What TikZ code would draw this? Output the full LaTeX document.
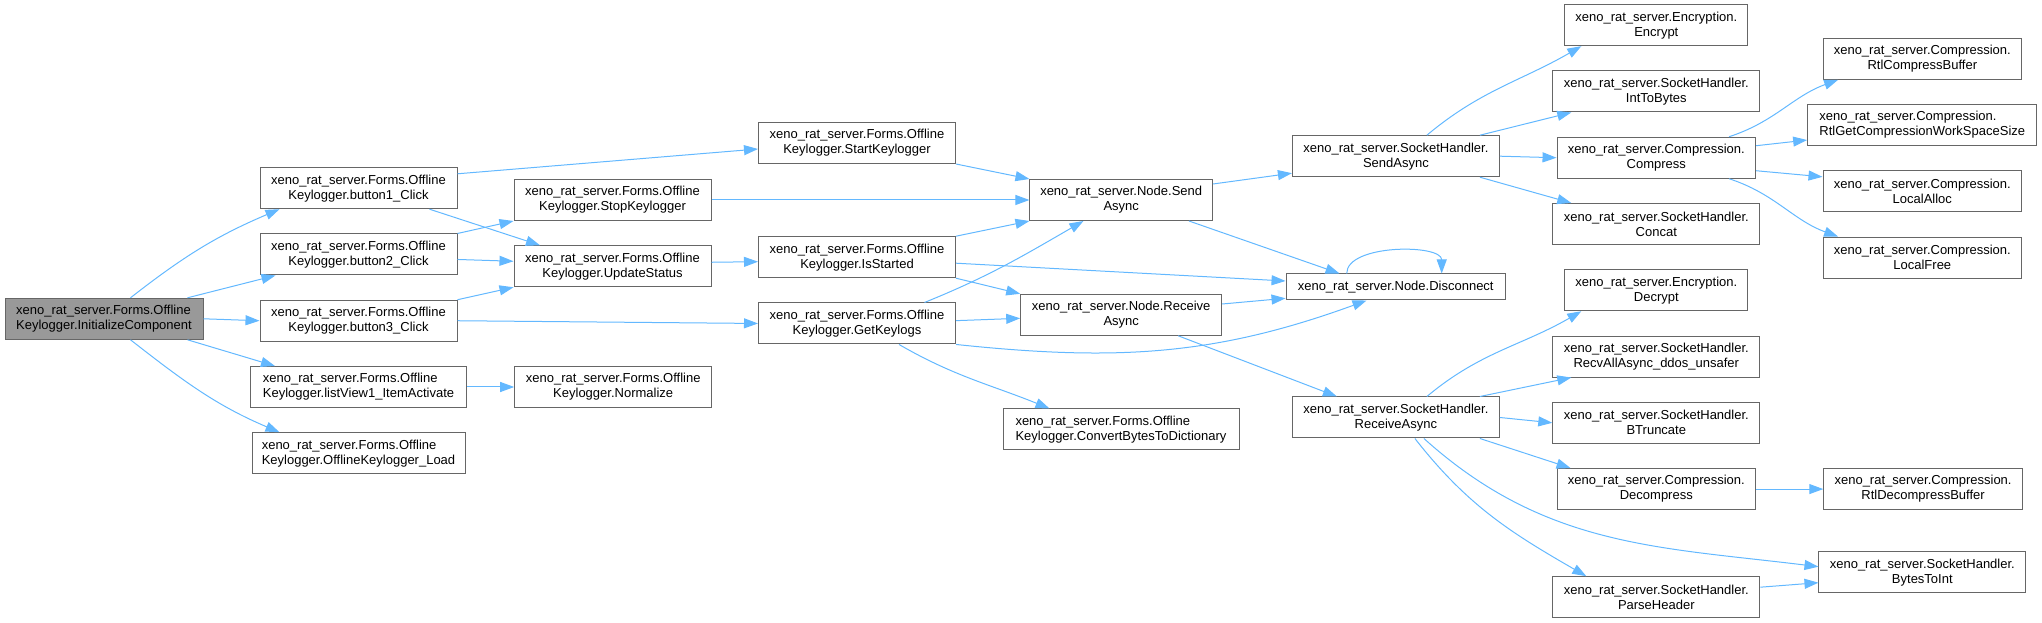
\documentclass[tikz,border=0pt]{standalone}
\usepackage{fontspec}
\setmainfont{Liberation Sans}
\usetikzlibrary{arrows.meta,positioning,calc}
\definecolor{colArete}{RGB}{99,184,255}
\definecolor{colBord}{RGB}{102,102,102}
\definecolor{colRacine}{RGB}{153,153,153}

\begin{document}
\begin{tikzpicture}[x=0.75pt, y=0.75pt,
    font=\fontsize{9.75}{11.25}\selectfont,
    fn/.style={rectangle, draw=colBord, fill=white, line width=0.75pt,
      align=center, minimum height=30.75pt, minimum width=147.75pt,
      inner sep=2pt},
    fnl/.style={fn, align=left},
    racine/.style={fnl, fill=colRacine},
    fl/.style={-{Triangle[length=10.5pt,width=7.5pt]}, line width=0.75pt,
      colArete}]
    \useasboundingbox (0,0) rectangle (2042,-623);
    \node[racine, minimum width=148.5pt] (init) at (104,-318.8)
      {xeno\_rat\_server.Forms.Offline\\Keylogger.InitializeComponent};
    \node[fn] (b1) at (358.5,-188.2)
      {xeno\_rat\_server.Forms.Offline\\Keylogger.button1\_Click};
    \node[fn, below=18.2pt of b1] (b2)
      {xeno\_rat\_server.Forms.Offline\\Keylogger.button2\_Click};
    \node[fn, below=18.2pt of b2] (b3)
      {xeno\_rat\_server.Forms.Offline\\Keylogger.button3\_Click};
    \node[fnl, minimum width=162pt, below=18.2pt of b3] (lva)
      {xeno\_rat\_server.Forms.Offline\\Keylogger.listView1\_ItemActivate};
    \node[fnl, minimum width=159.75pt, below=18.2pt of lva] (load)
      {xeno\_rat\_server.Forms.Offline\\Keylogger.OfflineKeylogger\_Load};
    \node[fn] (stop) at (612.5,-200)
      {xeno\_rat\_server.Forms.Offline\\Keylogger.StopKeylogger};
    \node[fn, below=18.2pt of stop] (upd)
      {xeno\_rat\_server.Forms.Offline\\Keylogger.UpdateStatus};
    \node[fn, right=35.4pt of lva] (norm)
      {xeno\_rat\_server.Forms.Offline\\Keylogger.Normalize};
    \node[fn] (start) at (857,-143)
      {xeno\_rat\_server.Forms.Offline\\Keylogger.StartKeylogger};
    \node[fn] (isst) at (857,-257.2)
      {xeno\_rat\_server.Forms.Offline\\Keylogger.IsStarted};
    \node[fn, below=18.2pt of isst] (getk)
      {xeno\_rat\_server.Forms.Offline\\Keylogger.GetKeylogs};
    \node[fn, minimum width=136.9pt] (nsend) at (1121.2,-200)
      {xeno\_rat\_server.Node.Send\\Async};
    \node[fn, minimum width=150.75pt] (nrecv) at (1121.2,-314.8)
      {xeno\_rat\_server.Node.Receive\\Async};
    \node[fnl, minimum width=177pt] (conv) at (1121,-429.5)
      {xeno\_rat\_server.Forms.Offline\\Keylogger.ConvertBytesToDictionary};
    \node[fn, minimum width=155.25pt] (shsend) at (1395.9,-156.2)
      {xeno\_rat\_server.SocketHandler.\\SendAsync};
    \node[fn, minimum width=164.5pt, minimum height=19.5pt] (disc)
      at (1395.7,-287) {xeno\_rat\_server.Node.Disconnect};
    \node[fn, minimum width=155.25pt] (shrecv) at (1395.9,-417.5)
      {xeno\_rat\_server.SocketHandler.\\ReceiveAsync};
    \node[fn, minimum width=137.25pt] (enc) at (1656.3,-25.2)
      {xeno\_rat\_server.Encryption.\\Encrypt};
    \node[fn, minimum width=155.25pt, below=18.2pt of enc] (i2b)
      {xeno\_rat\_server.SocketHandler.\\IntToBytes};
    \node[fn, minimum width=148.9pt, below=18.2pt of i2b] (comp)
      {xeno\_rat\_server.Compression.\\Compress};
    \node[fn, minimum width=155.25pt, below=18.2pt of comp] (concat)
      {xeno\_rat\_server.SocketHandler.\\Concat};
    \node[fn, minimum width=137.25pt, below=18.2pt of concat] (dec)
      {xeno\_rat\_server.Encryption.\\Decrypt};
    \node[fn, minimum width=155.25pt, below=18.2pt of dec] (recv)
      {xeno\_rat\_server.SocketHandler.\\RecvAllAsync\_ddos\_unsafer};
    \node[fn, minimum width=155.25pt, below=18.2pt of recv] (btr)
      {xeno\_rat\_server.SocketHandler.\\BTruncate};
    \node[fn, minimum width=148.9pt, below=18.2pt of btr] (decomp)
      {xeno\_rat\_server.Compression.\\Decompress};
    \node[fn, minimum width=155.25pt] (parse) at (1656.3,-597.2)
      {xeno\_rat\_server.SocketHandler.\\ParseHeader};
    \node[fn, minimum width=148.95pt] (rcb) at (1922.3,-58.8)
      {xeno\_rat\_server.Compression.\\RtlCompressBuffer};
    \node[fnl, minimum width=172pt, below=18.2pt of rcb] (rgws)
      {xeno\_rat\_server.Compression.\\RtlGetCompressionWorkSpaceSize};
    \node[fn, minimum width=148.95pt, below=18.2pt of rgws] (lalloc)
      {xeno\_rat\_server.Compression.\\LocalAlloc};
    \node[fn, minimum width=148.95pt, below=18.2pt of lalloc] (lfree)
      {xeno\_rat\_server.Compression.\\LocalFree};
    \node[fn, minimum width=148.95pt, right=50.4pt of decomp] (rdb)
      {xeno\_rat\_server.Compression.\\RtlDecompressBuffer};
    \node[fn, minimum width=155pt] (b2i) at (1922.3,-572.2)
      {xeno\_rat\_server.SocketHandler.\\BytesToInt};
    % appels depuis InitializeComponent
    \draw[fl] ($(init.north west)+(126,0)$) to[out=38,in=203]
      ($(b1.south west)+(20,0)$);
    \draw[fl] ($(init.north east)+(-16,0)$)--($(b2.south west)+(16,0)$);
    \draw[fl] (init.east)--(b3.west);
    \draw[fl] ($(init.south east)+(-16,0)$)--($(lva.north west)+(25,0)$);
    \draw[fl] ($(init.south west)+(126,0)$) to[out=-38,in=157]
      ($(load.north west)+(28,0)$);
    \draw[fl] ($(b1.north east)+(0,-6.6)$)--($(start.west)+(0,-6)$);
    \draw[fl] ($(b1.south east)+(-28,0)$)--($(upd.north west)+(26.5,0)$);
    \draw[fl] (b2.north east)--(stop.south west);
    \draw[fl] ($(b2.east)+(0,-5)$)--($(upd.west)+(0,5)$);
    \draw[fl] (b3.north east)--(upd.south west);
    \draw[fl] (b3.east)--(getk.west);
    \draw[fl] (lva)--(norm);
    \draw[fl] (stop.east)--(nsend.west);
    \draw[fl] ($(upd.east)+(0,4)$)--($(isst.west)+(0,-4.5)$);
    \draw[fl] (start.south east)--(nsend.north west);
    \draw[fl] (isst.north east)--(nsend.south west);
    \draw[fl] ($(isst.east)+(0,-6)$)--($(disc.west)+(0,6)$);
    \draw[fl] (isst.south east)--(nrecv.north west);
    \draw[fl] ($(getk.north east)+(-31.5,0)$) to[out=22,in=210]
      ($(nsend.south west)+(54,0)$);
    \draw[fl] ($(getk.east)+(0,2.8)$)--($(nrecv.west)+(0,-3.5)$);
    \draw[fl] (getk.south east) to[out=-6,in=200]
      ($(disc.south west)+(81,0)$);
    \draw[fl] ($(getk.south west)+(141,0)$) to[out=-30,in=158]
      ($(conv.north west)+(47,0)$);
    % Node
    \draw[fl] ($(nsend.north east)+(0,-5)$)--($(shsend.south west)+(0,4)$);
    \draw[fl] ($(nsend.south east)+(-24,0)$)--($(disc.north west)+(54,0)$);
    \draw[fl] ($(nrecv.east)+(0,10.8)$)--($(disc.west)+(0,-11.3)$);
    \draw[fl] ($(nrecv.south east)+(-44,0)$)--($(shrecv.north west)+(45,0)$);
    \draw[fl] ($(disc.north)+(-49,0)$) to[out=90,in=90,looseness=0.8]
      ($(disc.north)+(46,0)$);
    % SocketHandler.SendAsync
    \draw[fl] ($(shsend.north west)+(135,0)$) to[out=40,in=210]
      ($(enc.south west)+(17,0)$);
    \draw[fl] ($(shsend.north east)+(-20,0)$)--($(i2b.south west)+(19,0)$);
    \draw[fl] (shsend.east)--(comp.west);
    \draw[fl] ($(shsend.south east)+(-20,0)$)--($(concat.north west)+(19,0)$);
    % Compress
    \draw[fl] ($(comp.north east)+(-27,0)$) to[out=18,in=200]
      ($(rcb.south west)+(15.6,0)$);
    \draw[fl] ($(comp.east)+(0,12)$)--($(rgws.west)+(0,-15)$);
    \draw[fl] ($(comp.east)+(0,-13)$)--($(lalloc.west)+(0,14.5)$);
    \draw[fl] ($(comp.south east)+(-27,0)$) to[out=-18,in=160]
      ($(lfree.north west)+(15.6,0)$);
    % SocketHandler.ReceiveAsync
    \draw[fl] ($(shrecv.north west)+(135,0)$) to[out=40,in=210]
      ($(dec.south west)+(17,0)$);
    \draw[fl] ($(shrecv.north east)+(-20,0)$)--($(recv.south west)+(19,0)$);
    \draw[fl] (shrecv.east)--(btr.west);
    \draw[fl] ($(shrecv.south east)+(-20,0)$)--($(decomp.north west)+(14,0)$);
    \draw[fl] ($(shrecv.south west)+(132,0)$) to[out=-42,in=173]
      ($(b2i.west)+(0,5.5)$);
    \draw[fl] ($(shrecv.south west)+(123,0)$) to[out=-52,in=150]
      ($(parse.north west)+(34,0)$);
    \draw[fl] (decomp.east)--(rdb.west);
    \draw[fl] ($(parse.east)+(0,10)$)--($(b2i.west)+(0,-10.5)$);
  \end{tikzpicture}
\end{document}
